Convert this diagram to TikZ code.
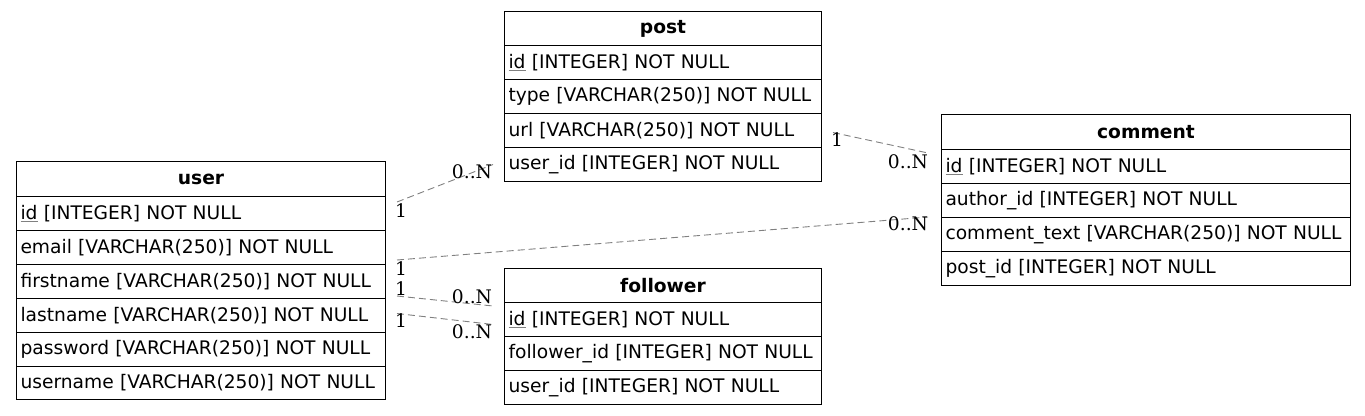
\documentclass[tikz,border=0pt]{standalone}
\usepackage{fontspec}
\setmainfont{DejaVu Sans}
\newfontfamily\lblfont{DejaVu Serif}
\newcommand\keyul[1]{{\color{gray}\underline{\textcolor{black}{#1}}}}
\begin{document}
\begin{tikzpicture}[x=1pt,y=-1pt,
  cell/.style={draw, line width=1pt, anchor=north west, minimum height=34pt,
    inner xsep=4pt, inner ysep=0pt, align=left, font=\fontsize{18.67}{22}\selectfont},
  ttl/.style={draw, line width=1pt, anchor=north west, inner sep=0pt,
    font=\bfseries\fontsize{18.67}{22}\selectfont},
  rel/.style={draw=gray, line width=0.9pt, dash pattern=on 7pt off 4pt},
  card/.style={font=\lblfont\fontsize{18.67}{22}\selectfont, inner sep=0pt, anchor=base}]
\useasboundingbox (0,0) rectangle (1365,415);

% user
\node[ttl, minimum width=369pt, minimum height=35pt] (user) at (16,161) {user};
\node[cell, text width=361pt] (user-id) at (16,196) {\keyul{id} [INTEGER] NOT NULL};
\node[cell, text width=361pt] (user-email) at (16,230) {email [VARCHAR(250)] NOT NULL};
\node[cell, text width=361pt] (user-firstname) at (16,264) {firstname [VARCHAR(250)] NOT NULL};
\node[cell, text width=361pt] (user-lastname) at (16,298) {lastname [VARCHAR(250)] NOT NULL};
\node[cell, text width=361pt] (user-password) at (16,332) {password [VARCHAR(250)] NOT NULL};
\node[cell, text width=361pt, minimum height=33pt] (user-username) at (16,366) {username [VARCHAR(250)] NOT NULL};

% post
\node[ttl, minimum width=317pt, minimum height=34pt] (post) at (504,11) {post};
\node[cell, text width=309pt] (post-id) at (504,45) {\keyul{id} [INTEGER] NOT NULL};
\node[cell, text width=309pt] (post-type) at (504,79) {type [VARCHAR(250)] NOT NULL};
\node[cell, text width=309pt] (post-url) at (504,113) {url [VARCHAR(250)] NOT NULL};
\node[cell, text width=309pt] (post-userid) at (504,147) {user\_id [INTEGER] NOT NULL};

% comment
\node[ttl, minimum width=409pt, minimum height=35pt] (comment) at (941,114) {comment};
\node[cell, text width=401pt] (comment-id) at (941,149) {\keyul{id} [INTEGER] NOT NULL};
\node[cell, text width=401pt] (comment-authorid) at (941,183) {author\_id [INTEGER] NOT NULL};
\node[cell, text width=401pt] (comment-text) at (941,217) {comment\_text [VARCHAR(250)] NOT NULL};
\node[cell, text width=401pt] (comment-postid) at (941,251) {post\_id [INTEGER] NOT NULL};

% follower
\node[ttl, minimum width=317pt, minimum height=34pt] (follower) at (504,268) {follower};
\node[cell, text width=309pt] (follower-id) at (504,302) {\keyul{id} [INTEGER] NOT NULL};
\node[cell, text width=309pt] (follower-followerid) at (504,336) {follower\_id [INTEGER] NOT NULL};
\node[cell, text width=309pt] (follower-userid) at (504,370) {user\_id [INTEGER] NOT NULL};

% connector end points
\coordinate (a1) at ([shift={(11,6)}]user-id.north east);
\coordinate (a2) at ([shift={(-11,0)}]post-userid.west);
\coordinate (b1) at ([shift={(11,-5)}]user-email.south east);
\coordinate (b2) at ([shift={(-13,-1)}]comment-authorid.south west);
\coordinate (c1) at ([shift={(11,-3)}]user-firstname.south east);
\coordinate (c2) at ([shift={(-11,4)}]follower-id.north west);
\coordinate (d1) at ([shift={(11,-2)}]user-lastname.east);
\coordinate (d2) at ([shift={(-11,5)}]follower-id.west);
\coordinate (e1) at ([shift={(11,2)}]post-url.east);
\coordinate (e2) at ([shift={(-13,4)}]comment-id.north west);

\draw[rel] (a1) -- (a2);
\draw[rel] (b1) -- (b2);
\draw[rel] (c1) -- (c2);
\draw[rel] (d1) -- (d2);
\draw[rel] (e1) -- (e2);

% cardinalities
\node[card] (la1) at (401,217) {1};
\node[card] (la2) at (472,178) {0..N};
\node[card] (lb1) at (401,275) {1};
\node[card] (lb2) at (908,230) {0..N};
\node[card] (lc1) at (401,295) {1};
\node[card] (lc2) at (472,303) {0..N};
\node[card] (ld1) at (401,327) {1};
\node[card] (ld2) at (472,338) {0..N};
\node[card] (le1) at (837,146) {1};
\node[card] (le2) at (908,168) {0..N};
\end{tikzpicture}
\end{document}
